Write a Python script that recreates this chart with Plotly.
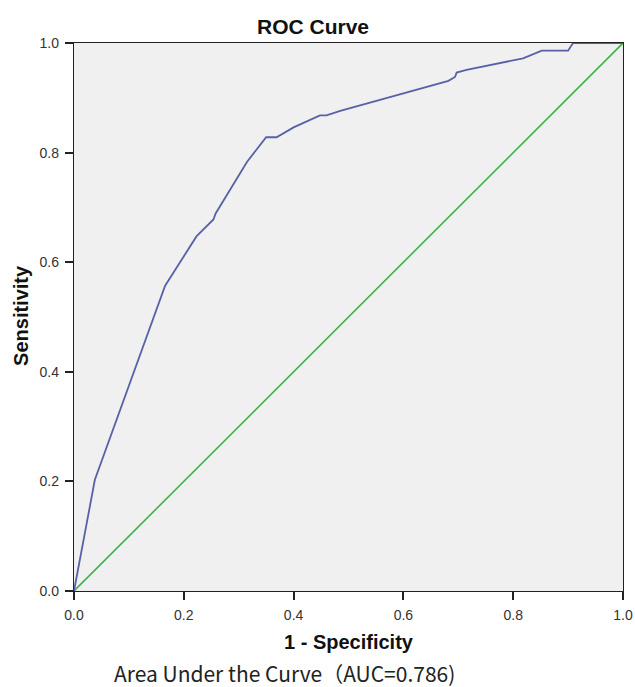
import plotly.graph_objects as go

# ROC curve points (1 - specificity, sensitivity)
fpr = [0.0, 0.038, 0.166, 0.223, 0.254, 0.258, 0.315, 0.350, 0.369, 0.400,
       0.448, 0.460, 0.485, 0.682, 0.694, 0.697, 0.715, 0.818, 0.852, 0.900,
       0.909, 1.0]
tpr = [0.0, 0.203, 0.557, 0.647, 0.678, 0.689, 0.783, 0.828, 0.828, 0.846,
       0.868, 0.868, 0.876, 0.931, 0.938, 0.946, 0.951, 0.972, 0.986, 0.986,
       1.0, 1.0]
ref_x = [0.0, 1.0]
ref_y = [0.0, 1.0]
ticks = [0.0, 0.2, 0.4, 0.6, 0.8, 1.0]
tick_labels = ["0.0", "0.2", "0.4", "0.6", "0.8", "1.0"]

fig = go.Figure()
fig.add_trace(go.Scatter(x=ref_x, y=ref_y, mode="lines",
                         line=dict(color="#3db34a", width=1.6), showlegend=False))
fig.add_trace(go.Scatter(x=fpr, y=tpr, mode="lines",
                         line=dict(color="#5762a6", width=1.8), showlegend=False))

axis_common = dict(range=[0, 1], tickvals=ticks, ticktext=tick_labels,
                   showgrid=False, zeroline=False, showline=True, mirror=True,
                   linecolor="#222222", linewidth=1.3, ticks="outside",
                   ticklen=8, tickwidth=1.5, tickcolor="#222222", automargin=False,
                   ticklabelstandoff=3,
                   tickfont=dict(family="Liberation Sans, Arial", size=14, color="#333333"))

fig.update_layout(
    width=635, height=687,
    margin=dict(l=74, r=12, t=43, b=96, autoexpand=False),
    paper_bgcolor="white", plot_bgcolor="#f0f0f0",
    xaxis=dict(**axis_common),
    yaxis=dict(**axis_common),
)

title_font = dict(family="Liberation Sans, Arial", size=20, color="#111111")
fig.add_annotation(text="<b>ROC Curve</b>", xref="paper", yref="paper",
                   x=0.435, y=1.031, showarrow=False, xanchor="center", yanchor="middle",
                   font=dict(family="Liberation Sans, Arial", size=21, color="#111111"))
fig.add_annotation(text="<b>1 - Specificity</b>", xref="paper", yref="paper",
                   x=0.5, y=-0.093, showarrow=False, xanchor="center", yanchor="middle",
                   font=title_font)
fig.add_annotation(text="<b>Sensitivity</b>", xref="paper", yref="paper",
                   x=-0.0965, y=0.502, showarrow=False, xanchor="center", yanchor="middle",
                   textangle=-90, font=title_font)
fig.add_annotation(text="Area Under the Curve（AUC=0.786)", xref="paper", yref="paper",
                   x=0.383, y=-0.150, showarrow=False, xanchor="center", yanchor="middle",
                   font=dict(family="Noto Sans CJK SC", size=21, color="#222222"))

fig.write_html("out.html", config={"displayModeBar": False},
               post_script="document.body.style.margin='0';")
